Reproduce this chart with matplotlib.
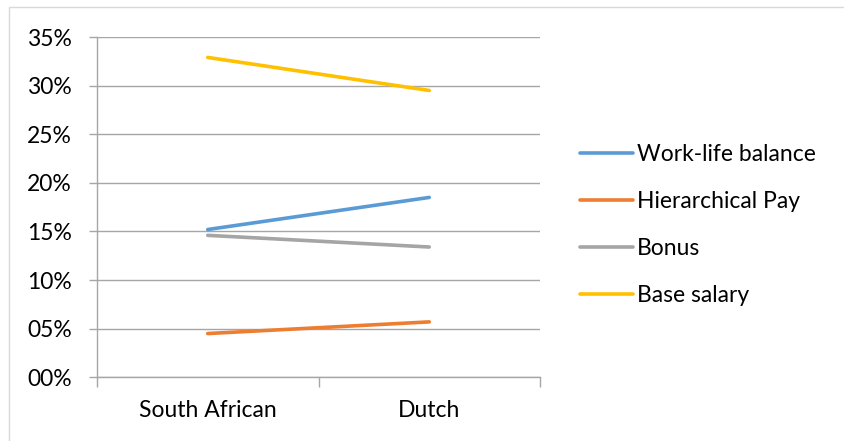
import matplotlib
matplotlib.use('Agg')
import matplotlib.pyplot as plt
from matplotlib.patches import Rectangle
from matplotlib.ticker import FixedLocator, FuncFormatter

# shares of respondents (%) per reward type and country
groups = ['South African', 'Dutch']
series_names = ['Work-life balance', 'Hierarchical Pay', 'Bonus', 'Base salary']
work_life = [15.2, 18.5]
hierarchical = [4.5, 5.7]
bonus = [14.6, 13.4]
base_salary = [32.9, 29.5]
colors = ['#5B9BD5', '#ED7D31', '#A5A5A5', '#FFC000']
y_ticks = [0, 5, 10, 15, 20, 25, 30, 35]

plt.rcParams['font.family'] = ['Lato', 'DejaVu Sans']
fs = 16.5

fig = plt.figure(figsize=(8.44, 4.41), dpi=100)
ax = fig.add_axes([97 / 844, 1 - 377.3 / 441, 443 / 844, 340.3 / 441])

# chart border
fig.patches.append(Rectangle((9 / 844, 0 - 0.01), 1.0, 1 - 7 / 441 + 0.01,
                             transform=fig.transFigure, fill=False,
                             edgecolor='#D9D9D9', linewidth=1.0))

x = range(len(groups))
for vals, name, c in zip([work_life, hierarchical, bonus, base_salary], series_names, colors):
    ax.plot(x, vals, color=c, linewidth=2.6, solid_capstyle='round', label=name)

ax.set_xlim(-0.5, 1.5)
ax.set_ylim(0, 35)
ax.yaxis.set_major_locator(FixedLocator(y_ticks))
ax.yaxis.set_major_formatter(FuncFormatter(lambda v, p: '%02d%%' % int(round(v))))
ax.set_xticks(list(x))
ax.set_xticklabels(groups)
ax.set_xticks([-0.5, 0.5, 1.5], minor=True)

ax.grid(axis='y', color='#A6A6A6', linewidth=1.0)
ax.set_axisbelow(True)
for s in ['top', 'right']:
    ax.spines[s].set_visible(False)
for s in ['left', 'bottom']:
    ax.spines[s].set_color('#A6A6A6')
    ax.spines[s].set_linewidth(1.0)

ax.tick_params(axis='y', length=6, width=1.0, color='#A6A6A6', pad=12, labelsize=fs)
ax.tick_params(axis='x', which='major', length=0, pad=16, labelsize=fs)
ax.tick_params(axis='x', which='minor', length=7, width=1.0, color='#A6A6A6')

fig.legend(loc='center left', bbox_to_anchor=(580 / 844, 1 - 225 / 441),
           frameon=False, fontsize=fs, handlelength=2.3, handletextpad=0.2,
           labelspacing=1.13, borderpad=0, borderaxespad=0)

fig.savefig('out.png', dpi=100)
